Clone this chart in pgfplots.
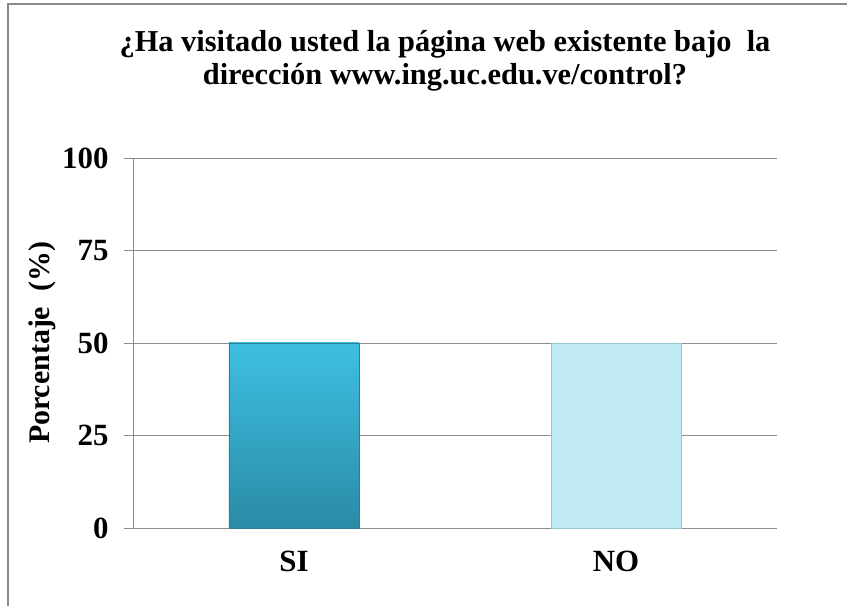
\documentclass[border=0pt]{standalone}
\usepackage{fontspec}
\setmainfont{Liberation Serif}
\usepackage{pgfplots}
\pgfplotsset{compat=1.18}
\definecolor{gridgray}{HTML}{8C8C8C}
\definecolor{framegray}{HTML}{8A8A8A}
\definecolor{siTop}{HTML}{3EBFE2}
\definecolor{siBot}{HTML}{2A8BA6}
\definecolor{siEdge}{HTML}{2A7E96}
\definecolor{noFill}{HTML}{BFEAF3}
\definecolor{noEdge}{HTML}{98C6D2}
\begin{document}
\begin{tikzpicture}
\useasboundingbox (0,0) rectangle (847bp,606bp);
\fill[white] (0,0) rectangle (847bp,606bp);
\draw[framegray, line width=2bp] (8bp,0) -- (8bp,602bp) -- (847bp,602bp);
\begin{axis}[
  at={(133bp,78bp)}, anchor=south west,
  scale only axis, width=644bp, height=370bp,
  xmin=-0.5, xmax=1.5, ymin=0, ymax=100,
  xtick={0,1}, xticklabels={SI,NO},
  ytick={0,25,50,75,100},
  axis lines*=left,
  axis line style={draw=gridgray, line width=0.8bp},
  ymajorgrids, grid style={draw=gridgray, line width=0.8bp},
  tick align=outside,
  major tick length=9bp,
  ytick style={draw=gridgray, line width=0.8bp},
  xtick style={draw=none},
  ticklabel style={font=\fontsize{31}{36}\selectfont\bfseries},
  /pgf/number format/assume math mode=true,
  yticklabel style={xshift=-12bp},
  xticklabel style={yshift=-11bp},
  every axis y label/.style={at={(axis description cs:-0.1414,0.5)}, rotate=90, anchor=center},
  ylabel={\fontsize{30}{34}\selectfont\bfseries Porcentaje\ \ (\%)},
  clip=false,
]
\addplot[ybar, bar shift=0pt, bar width=0.404, draw=siEdge, line width=0.8bp, top color=siTop, bottom color=siBot] coordinates {(0,50)};
\addplot[ybar, bar shift=0pt, bar width=0.404, draw=noEdge, line width=0.8bp, fill=noFill] coordinates {(1,50)};
\end{axis}
\node[anchor=north, align=center, inner sep=0pt, font=\fontsize{30.5}{33}\selectfont\bfseries] at (445bp,576bp)
  {¿Ha visitado usted la página web existente bajo\ \ la\\dirección www.ing.uc.edu.ve/control?};
\end{tikzpicture}
\end{document}
